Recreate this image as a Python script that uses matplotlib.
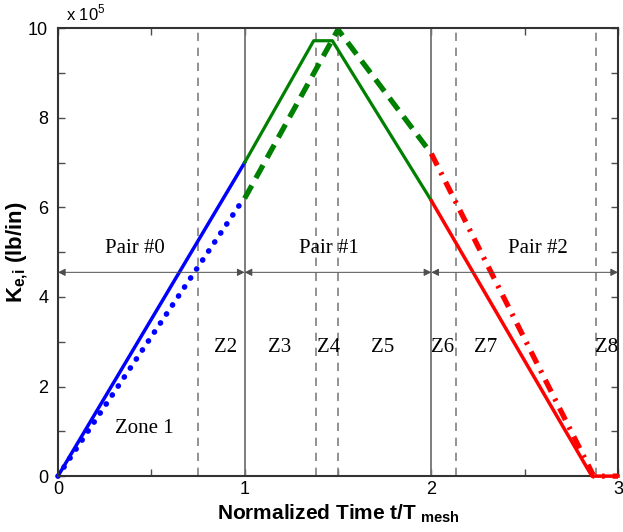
import matplotlib
matplotlib.use('Agg')
import matplotlib.pyplot as plt

# mesh stiffness (x 1e5 lb/in) vs normalized time
t_p0 = [0, 1]
k_p0 = [0, 7.0]
t_p0_dot = [0, 0.98]
k_p0_dot = [0, 6.1]

t_p1 = [1, 1.37, 1.47, 2]
k_p1 = [7.0, 9.72, 9.72, 6.15]
t_p1_dash = [1, 1.5, 2]
k_p1_dash = [6.2, 9.97, 7.2]

t_p2 = [2, 2.86, 3]
k_p2 = [6.15, 0, 0]
t_p2_dd = [2, 2.87, 3]
k_p2_dd = [7.2, 0, 0]

pair_bounds = [1, 2]
zone_bounds = [0.75, 1.38, 1.5, 2.13, 2.88]
pair_labels = ['Pair #0', 'Pair #1', 'Pair #2']
pair_x = [0.41, 1.45, 2.57]
zone_labels = ['Z2', 'Z3', 'Z4', 'Z5', 'Z6', 'Z7', 'Z8']
zone_x = [0.9, 1.19, 1.45, 1.74, 2.06, 2.29, 2.94]

serif = 'Liberation Serif'
sans = 'Liberation Sans'
plt.rcParams['mathtext.fontset'] = 'custom'
plt.rcParams['mathtext.rm'] = sans
plt.rcParams['mathtext.bf'] = sans + ':bold'

fig = plt.figure(figsize=(6.23, 5.32), dpi=100)
ax = fig.add_axes([0.093, 0.105, 0.899, 0.842])

for xb in pair_bounds:
    ax.axvline(xb, color='0.45', lw=1.3)
for xz in zone_bounds:
    ax.axvline(xz, color='0.5', lw=1.2, ls=(0, (5, 4)))

ax.plot(t_p0, k_p0, color='blue', lw=2.5, clip_on=False)
ax.plot(t_p0_dot, k_p0_dot, color='blue', lw=4, ls=(0, (0.05, 1.9)),
        dash_capstyle='round', clip_on=False)
ax.plot(t_p1, k_p1, color='green', lw=2.3)
ax.plot(t_p1_dash, k_p1_dash, color='green', lw=3.8, ls=(0, (2.8, 1.6)),
        clip_on=False)
ax.plot(t_p2, k_p2, color='red', lw=2.5, clip_on=False, zorder=3)
ax.plot(t_p2_dd, k_p2_dd, color='red', lw=3.8, ls=(0, (2.5, 1.5, 0.5, 1.5)),
        clip_on=False, zorder=3)

# pair arrows
arrow_y = 4.55
edges = [0] + pair_bounds + [3]
for i in range(3):
    ax.annotate('', xy=(edges[i], arrow_y), xytext=(edges[i + 1], arrow_y),
                arrowprops=dict(arrowstyle='<|-|>', color='0.3', lw=0.7,
                                mutation_scale=11, shrinkA=0, shrinkB=0))
    ax.text(pair_x[i], 5.09, pair_labels[i], ha='center', va='center',
            fontsize=15, family=serif)

for lab, xz in zip(zone_labels, zone_x):
    ax.text(xz, 2.88, lab, ha='center', va='center', fontsize=15, family=serif)
ax.text(0.46, 1.07, 'Zone 1', ha='center', va='center', fontsize=15, family=serif)

ax.set_xlim(0, 3)
ax.set_ylim(0, 10)
ax.set_xticks([0, 1, 2, 3])
ax.set_xticks([0.5, 1.5, 2.5], minor=True)
ax.set_yticks([0, 2, 4, 6, 8, 10])
ax.set_yticks([1, 3, 5, 7, 9], minor=True)
ax.tick_params(which='both', direction='in', top=True, right=True,
               labelsize=13, length=5, width=1, color='0.3')
ax.tick_params(axis='y', pad=7)
for lbl in ax.get_xticklabels() + ax.get_yticklabels():
    lbl.set_family(sans)
for sp in ax.spines.values():
    sp.set_color('0.2')
    sp.set_linewidth(1.5)

ax.text(0.015, 1.01, r'x 10$^5$', transform=ax.transAxes, fontsize=12,
        family=sans, ha='left', va='bottom')
ax.set_xlabel(r'Normalized Time t/T$_{\ \mathbf{mesh}}$', fontsize=15,
              fontweight='bold', family=sans)
ax.xaxis.set_label_coords(0.5, -0.058)
ax.set_ylabel(r'K$_{\mathbf{e{,}i}}$ (lb/in)', fontsize=16,
              fontweight='bold', family=sans)
ax.yaxis.set_label_coords(-0.05, 0.5)

fig.savefig('out.png', dpi=100)
